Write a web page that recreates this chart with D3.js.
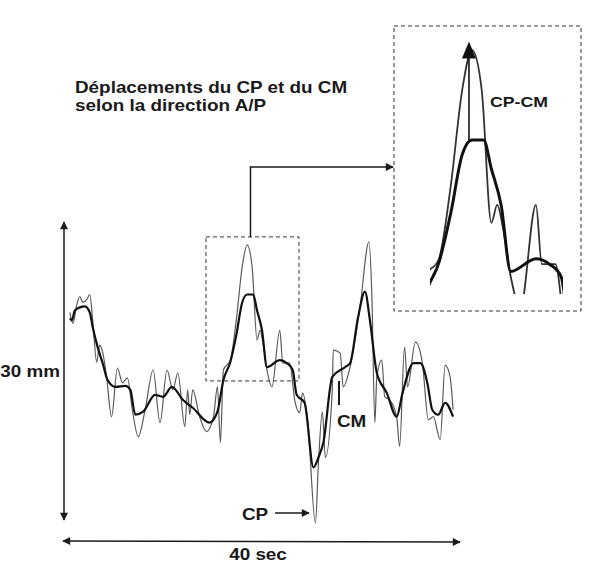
<!DOCTYPE html>
<html>
<head>
<meta charset="utf-8">
<script src="https://cdn.jsdelivr.net/npm/d3@7"></script>
<style>
    body { margin: 0; background: #fff; }
    text { font-family: "Liberation Sans", Arial, sans-serif; font-weight: bold; fill: #1a1a1a; }
</style>
</head>
<body>
<script>
// CP trace: time (s) and antero-posterior displacement (mm)
let cpTime = [0.6, 0.9, 1.3, 1.6, 1.9, 2.3, 2.6, 2.9, 3.3, 3.6, 3.9, 4.3, 4.8, 5.4, 5.9, 6.4, 6.9, 7.5, 8.2, 9.0,
    9.7, 10.4, 11.0, 11.5, 12.2, 12.5, 12.7, 13.0, 13.7, 14.4, 15.1, 15.5, 15.8, 16.1, 16.8, 17.4, 18.0, 18.5, 19.0, 19.5,
    19.8, 20.1, 20.5, 21.0, 21.8, 22.1, 22.8, 23.3, 23.8, 24.1, 24.6, 25.4, 25.7, 26.1, 26.4, 27.1, 27.2, 27.9, 28.2, 28.9,
    29.9, 30.8, 31.1, 31.4, 31.6, 32.1, 32.4, 32.9, 33.6, 33.9, 34.4, 34.7, 35.5, 36.2, 36.8, 37.3, 38.0, 38.5, 39.0, 39.3];
let cpMm = [20.9, 19.8, 21.7, 22.5, 21.9, 22.2, 22.7, 20.1, 15.9, 17.6, 16.9, 14.4, 10.4, 15.3, 13.8, 14.3, 11.1, 8.4, 11.1, 15.1,
    9.8, 15.1, 13.1, 14.8, 9.4, 13.1, 10.6, 13.1, 10.4, 8.9, 10.4, 13.4, 7.8, 15.1, 16.1, 20.1, 25.5, 27.7, 25.5, 18.1,
    19.1, 17.8, 15.1, 13.4, 19.1, 15.8, 15.8, 12.1, 10.8, 12.8, 10.1, -0.3, 5.7, 10.9, 6.3, 13.1, 17.1, 16.8, 13.4, 15.4,
    21.4, 28.0, 22.5, 9.8, 14.4, 16.1, 12.4, 12.1, 10.4, 7.4, 17.4, 13.4, 17.9, 15.8, 10.1, 10.4, 8.1, 15.6, 14.4, 11.1];

// CM trace: time (s) and displacement (mm)
let cmTime = [0.6, 0.8, 1.1, 2.1, 2.6, 2.9, 3.4, 3.9, 4.4, 5.2, 6.2, 6.7, 7.2, 8.0, 9.2, 10.0, 10.9, 12.0, 13.0, 14.7,
    15.5, 16.1, 16.8, 17.4, 18.0, 18.5, 19.1, 19.5, 20.0, 20.5, 21.8, 22.5, 23.1, 23.5, 24.3, 25.2, 25.7, 26.2, 27.1, 28.4,
    28.9, 29.7, 30.4, 30.9, 31.6, 32.6, 33.6, 34.2, 35.3, 36.0, 36.7, 37.2, 37.8, 38.5, 39.3];
let cmMm = [20.3, 20.1, 21.1, 21.5, 20.9, 19.4, 17.4, 15.8, 14.1, 13.4, 13.5, 13.1, 10.6, 10.9, 12.6, 12.4, 13.4, 12.1, 11.3, 9.8,
    10.9, 14.1, 15.9, 18.6, 21.9, 22.7, 22.7, 21.1, 19.1, 15.4, 16.1, 15.8, 15.1, 12.6, 11.8, 5.3, 6.3, 7.8, 14.4, 15.4,
    15.8, 20.4, 23.0, 20.1, 14.8, 12.8, 10.4, 12.8, 15.8, 15.8, 13.8, 11.1, 10.6, 11.8, 10.4];

// axis extents shown by the arrows
const timeSpan = [0, 40];
const mmSpan = [0, 30];
// window that is enlarged in the inset (s, mm)
const zoomTime = [14.34, 23.74];
const zoomMm = [14.0, 28.5];
const insetTime = [14.48, 24.07];
const insetMm = [13.2, 29.03];
const peakTime = 18.5;

const titleLines = ["Déplacements du CP et du CM", "selon la direction A/P"];

let cp = cpTime.map((t, i) => ({t: t, v: cpMm[i]}));
let cm = cmTime.map((t, i) => ({t: t, v: cmMm[i]}));

const width = 609, height = 577;
const stretch = 1.18;

let svg = d3.select("body").append("svg")
    .attr("width", width)
    .attr("height", height);

let defs = svg.append("defs");
defs.append("marker")
    .attr("id", "head")
    .attr("viewBox", "0 0 10 10")
    .attr("refX", 9).attr("refY", 5)
    .attr("markerWidth", 10).attr("markerHeight", 8)
    .attr("markerUnits", "userSpaceOnUse")
    .attr("orient", "auto-start-reverse")
    .append("path")
    .attr("d", "M0,0 L10,5 L0,10 Z")
    .attr("fill", "#1a1a1a");

let xScale = d3.scaleLinear().domain(timeSpan).range([64, 460]);
let yScale = d3.scaleLinear().domain(mmSpan).range([520, 222]);

let xInset = d3.scaleLinear().domain(insetTime).range([394, 580]);
let yInset = d3.scaleLinear().domain(insetMm).range([311, 26]);

let line = (xs, ys) => d3.line()
    .x(d => xs(d.t))
    .y(d => ys(d.v))
    .curve(d3.curveMonotoneX);

function label(txt, x, y, size, anchor) {
    svg.append("text")
        .attr("transform", "translate(" + x + "," + y + ") scale(" + stretch + ",1)")
        .attr("text-anchor", anchor || "start")
        .attr("font-size", size)
        .text(txt);
}

// main traces
let main = svg.append("g");
main.append("path")
    .attr("d", line(xScale, yScale)(cp))
    .attr("fill", "none")
    .attr("stroke", "#5a5a5a")
    .attr("stroke-width", 1.2);
main.append("path")
    .attr("d", line(xScale, yScale)(cm))
    .attr("fill", "none")
    .attr("stroke", "#111")
    .attr("stroke-width", 2.2);

// dashed window on the main trace
svg.append("rect")
    .attr("x", xScale(zoomTime[0]))
    .attr("y", yScale(zoomMm[1]))
    .attr("width", xScale(zoomTime[1]) - xScale(zoomTime[0]))
    .attr("height", yScale(zoomMm[0]) - yScale(zoomMm[1]))
    .attr("fill", "none")
    .attr("stroke", "#333")
    .attr("stroke-width", 1)
    .attr("stroke-dasharray", "4,3");

// inset frame
svg.append("rect")
    .attr("x", 394).attr("y", 26)
    .attr("width", 187).attr("height", 285)
    .attr("fill", "none")
    .attr("stroke", "#333")
    .attr("stroke-width", 1)
    .attr("stroke-dasharray", "4,3");

// connector from window to inset
let cx = xScale(d3.mean(zoomTime)) - 2;
svg.append("path")
    .attr("d", "M" + cx + "," + yScale(zoomMm[1]) + " V167 H393")
    .attr("fill", "none")
    .attr("stroke", "#1a1a1a")
    .attr("stroke-width", 1.5)
    .attr("marker-end", "url(#head)");

// inset traces
defs.append("clipPath").attr("id", "insetClip")
    .append("rect")
    .attr("x", 430).attr("y", 26)
    .attr("width", 133).attr("height", 268);

let inset = svg.append("g").attr("clip-path", "url(#insetClip)");
inset.append("path")
    .attr("d", line(xInset, yInset)(cp))
    .attr("fill", "none")
    .attr("stroke", "#333")
    .attr("stroke-width", 1.8);
inset.append("path")
    .attr("d", line(xInset, yInset)(cm))
    .attr("fill", "none")
    .attr("stroke", "#111")
    .attr("stroke-width", 3);

// CP-CM arrow at the peak
let cpPeak = d3.max(cp, d => d.v);
let cmPeak = d3.max(cm.filter(d => d.t > 17 && d.t < 20), d => d.v);
let px = xInset(peakTime) - 3;
svg.append("line")
    .attr("x1", px).attr("x2", px)
    .attr("y1", yInset(cmPeak))
    .attr("y2", yInset(cpPeak) + 12)
    .attr("stroke", "#111")
    .attr("stroke-width", 1.6);
svg.append("path")
    .attr("d", "M" + (px - 7) + "," + (yInset(cpPeak) + 14) +
        " L" + px + "," + (yInset(cpPeak) - 3) +
        " L" + (px + 7) + "," + (yInset(cpPeak) + 14) + " Z")
    .attr("fill", "#111");

// vertical 30 mm arrow
svg.append("line")
    .attr("x1", xScale(0)).attr("x2", xScale(0))
    .attr("y1", yScale(mmSpan[0])).attr("y2", yScale(mmSpan[1]))
    .attr("stroke", "#1a1a1a")
    .attr("stroke-width", 1.5)
    .attr("marker-start", "url(#head)")
    .attr("marker-end", "url(#head)");

// horizontal 40 sec arrow
svg.append("line")
    .attr("x1", xScale(timeSpan[0]) - 1).attr("x2", xScale(timeSpan[1]))
    .attr("y1", 541).attr("y2", 542)
    .attr("stroke", "#1a1a1a")
    .attr("stroke-width", 1.5)
    .attr("marker-start", "url(#head)")
    .attr("marker-end", "url(#head)");

// CP pointer and CM tick
svg.append("line")
    .attr("x1", 275).attr("x2", 309)
    .attr("y1", 513).attr("y2", 513)
    .attr("stroke", "#1a1a1a")
    .attr("stroke-width", 1.5)
    .attr("marker-end", "url(#head)");
svg.append("line")
    .attr("x1", 339).attr("x2", 339)
    .attr("y1", 381).attr("y2", 405)
    .attr("stroke", "#1a1a1a")
    .attr("stroke-width", 2);

// texts
label(titleLines[0], 75, 93, 16);
label(titleLines[1], 75, 111, 16);
label("30 mm", 60, 377, 16, "end");
label("40 sec", 258, 560, 16, "middle");
label("CP", 242, 520, 16);
label("CM", 337, 427, 16);
label("CP-CM", 490, 107, 15);
</script>
</body>
</html>
